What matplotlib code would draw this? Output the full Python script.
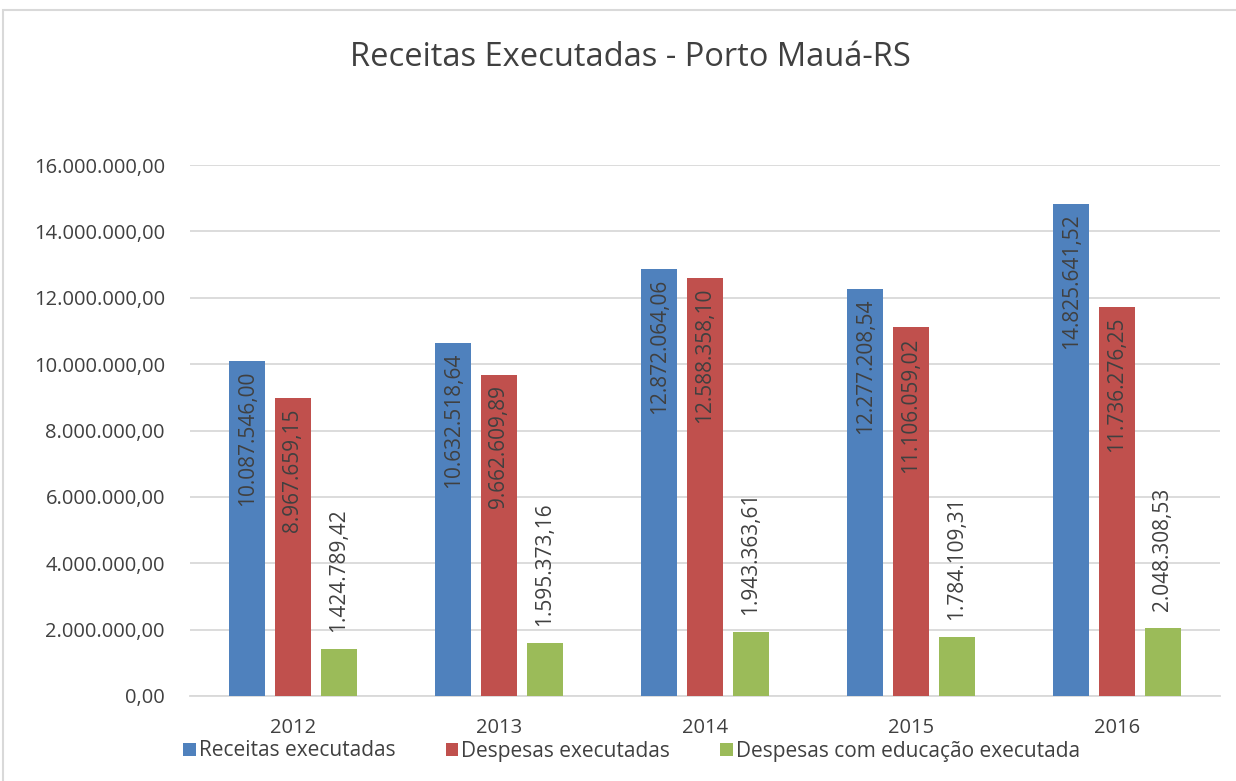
import numpy as np
import matplotlib.pyplot as plt
from matplotlib.patches import Rectangle

anos = ["2012", "2013", "2014", "2015", "2016"]
receitas = [10087546.00, 10632518.64, 12872064.06, 12277208.54, 14825641.52]
despesas = [8967659.15, 9662609.89, 12588358.10, 11106059.02, 11736276.25]
educacao = [1424789.42, 1595373.16, 1943363.61, 1784109.31, 2048308.53]
nomes = ["Receitas executadas", "Despesas executadas", "Despesas com educação executada"]
cores = ["#4F81BD", "#C0504D", "#9BBB59"]

plt.rcParams['font.family'] = ['Open Sans', 'DejaVu Sans']
texto = "#404040"

def br(v):
	s = f"{v:,.2f}"
	return s.replace(",", "X").replace(".", ",").replace("X", ".")

fig = plt.figure(figsize=(12.36, 7.81), dpi=100)
fig.patches.append(Rectangle((3/1236, -0.1), 1.2, (781-10)/781 + 0.1, transform=fig.transFigure,
	fill=False, edgecolor="#D9D9D9", linewidth=1.5))
ax = fig.add_axes([190/1236, 85/781, 1030/1236, 531/781])

x = np.arange(len(anos))
w = 36/207
passo = 46/207
series = [receitas, despesas, educacao]
for i, (vals, cor, nome) in enumerate(zip(series, cores, nomes)):
	bars = ax.bar(x + (i-1)*passo, vals, width=w, color=cor, label=nome, zorder=3)
	for b, v in zip(bars, vals):
		cx = b.get_x() + b.get_width()/2
		if i < 2:
			ax.annotate(br(v), (cx, v), xytext=(0, -7), textcoords="offset points",
				rotation=90, ha="center", va="top", fontsize=15, color=texto, zorder=4)
		else:
			ax.annotate(br(v), (cx, v), xytext=(0, 12), textcoords="offset points",
				rotation=90, ha="center", va="bottom", fontsize=15, color=texto, zorder=4)

ax.set_xlim(-0.5, 4.5)
ax.set_ylim(0, 16000000)
ax.set_yticks(np.arange(0, 16000001, 2000000))
ax.set_yticklabels([br(t) for t in np.arange(0, 16000001, 2000000)])
ax.set_xticks(x)
ax.set_xticklabels(anos)
ax.tick_params(axis="both", length=0, labelsize=14.5, colors=texto)
ax.tick_params(axis="x", pad=16)
ax.tick_params(axis="y", pad=18)
ax.grid(axis="y", color="#D9D9D9", linewidth=1.3, zorder=0)
for s in ["top", "right", "left"]:
	ax.spines[s].set_visible(False)
ax.spines["bottom"].set_color("#D9D9D9")
ax.spines["bottom"].set_linewidth(1.3)

fig.text(630/1236, 1 - 57/781, "Receitas Executadas - Porto Mauá-RS", ha="center", va="center",
	fontsize=23.5, color=texto)
fig.legend(loc="center left", bbox_to_anchor=(175/1236, 1 - 751/781), ncol=3, frameon=False,
	fontsize=15, labelcolor=texto, handlelength=0.6, handleheight=0.6, handletextpad=0.15,
	columnspacing=2.4, borderaxespad=0)

fig.savefig("out.png", dpi=100)
